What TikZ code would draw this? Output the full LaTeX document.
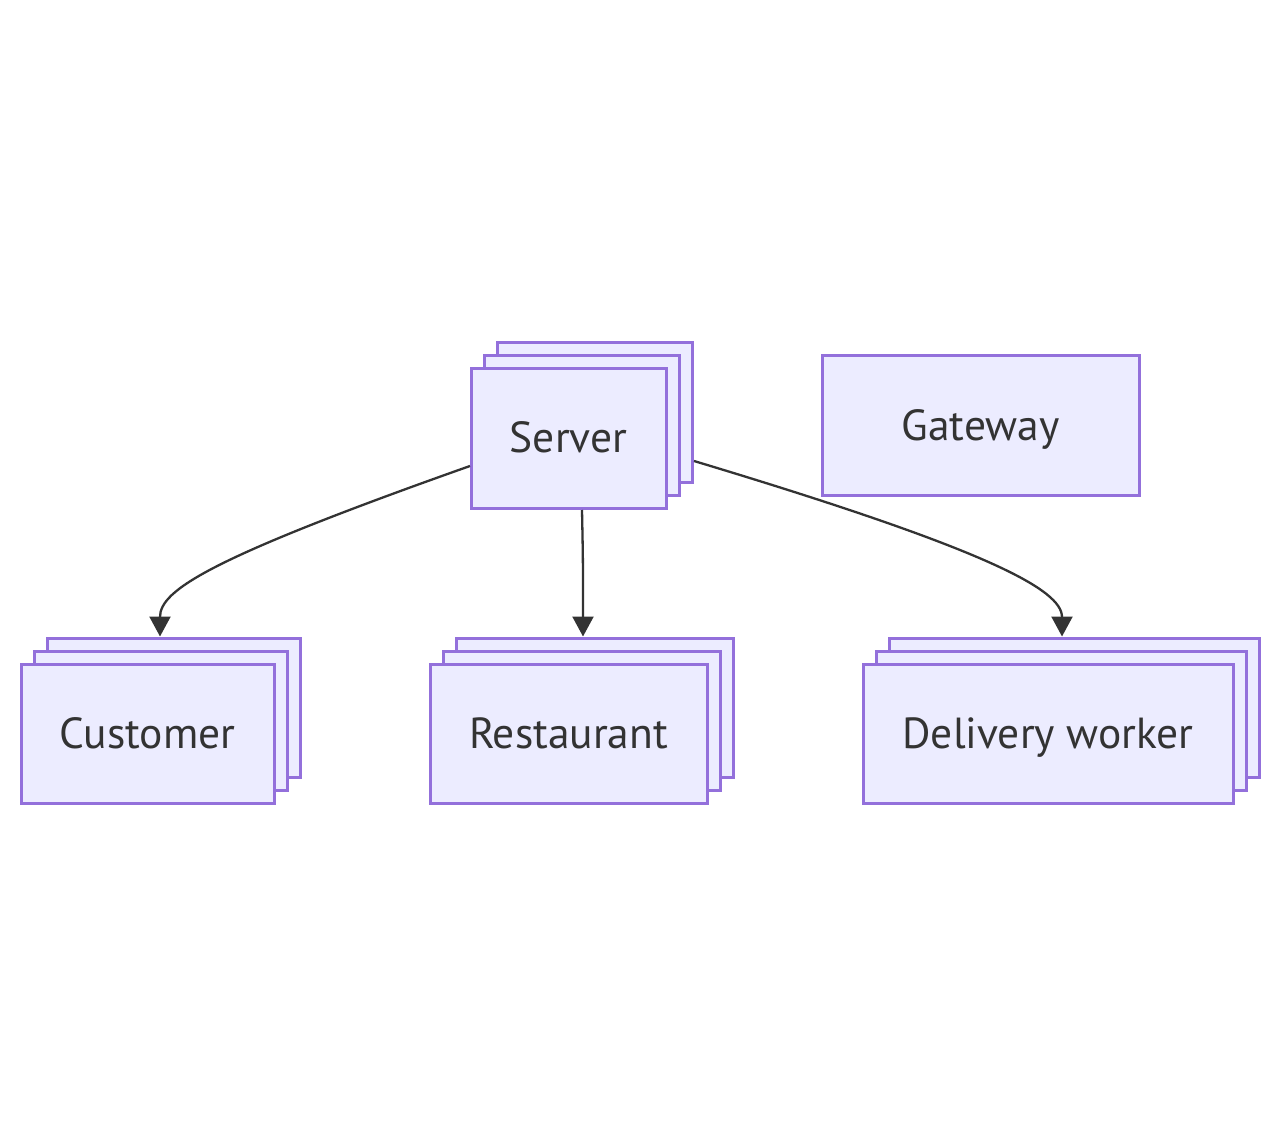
\documentclass[tikz,border=0pt]{standalone}
\usepackage{fontspec}
\setmainfont{PT Sans}
\usetikzlibrary{arrows.meta}
\definecolor{boxfill}{HTML}{ECECFF}
\definecolor{boxline}{HTML}{9370DB}
\definecolor{edgecol}{HTML}{333333}
\tikzset{
  box/.style={draw=boxline, fill=boxfill, line width=3pt, inner sep=0pt,
    text=edgecol, font=\fontsize{43.5}{50}\selectfont, text height=35pt, text depth=6pt},
  edge/.style={draw=edgecol, line width=2.3pt, -{Triangle[length=20pt,width=21pt]}}
}
\begin{document}
\begin{tikzpicture}[x=1pt,y=-1pt]
\useasboundingbox (0,0) rectangle (1280,1147);
% Server stack
\node[box, minimum width=195pt, minimum height=139pt] (server3) at (594.5,412.5) {};
\node[box, minimum width=195pt, minimum height=139pt] (server2) at (581.5,425.5) {};
\node[box, minimum width=195pt, minimum height=139pt] (server) at (568.5,438.5) {Server};
% Gateway
\node[box, minimum width=317pt, minimum height=139pt] (gateway) at (980.5,425.5) {Gateway};
% Customer stack
\node[box, minimum width=253pt, minimum height=139pt] (customer3) at (173.5,707.5) {};
\node[box, minimum width=253pt, minimum height=139pt] (customer2) at (160.5,720.5) {};
\node[box, minimum width=253pt, minimum height=139pt] (customer) at (147.5,733.5) {Customer};
% Restaurant stack
\node[box, minimum width=277pt, minimum height=139pt] (rest3) at (594.5,707.5) {};
\node[box, minimum width=277pt, minimum height=139pt] (rest2) at (581.5,720.5) {};
\node[box, minimum width=277pt, minimum height=139pt] (rest) at (568.5,733.5) {Restaurant};
% Delivery stack
\node[box, minimum width=370pt, minimum height=139pt] (deliv3) at (1074,707.5) {};
\node[box, minimum width=370pt, minimum height=139pt] (deliv2) at (1061,720.5) {};
\node[box, minimum width=370pt, minimum height=139pt] (deliv) at (1048,733.5) {Delivery worker};
% Edges
\coordinate (s1) at (470,466);
\coordinate (s2) at (582,510);
\coordinate (s3) at (694,461);
\draw[edge] (s1) .. controls (210,558) and (160,590) .. (customer3.north -| 160,0);
\draw[edge] (s2) .. controls (583,560) .. (rest3.north -| 583,0);
\draw[edge] (s3) .. controls (990,550) and (1062,590) .. (deliv3.north -| 1062,0);
\end{tikzpicture}
\end{document}
